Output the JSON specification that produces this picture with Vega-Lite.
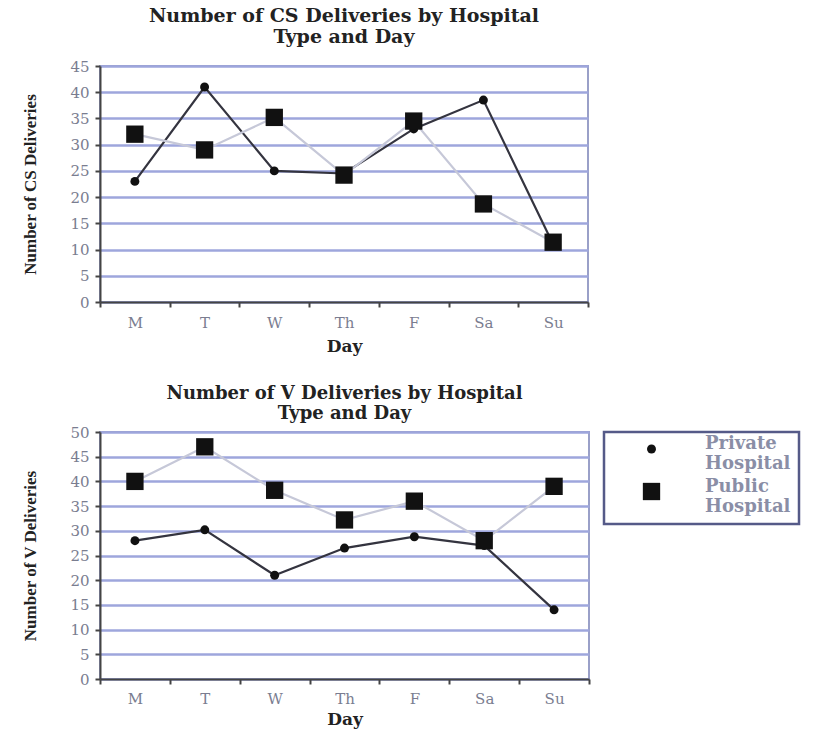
{
  "$schema": "https://vega.github.io/schema/vega-lite/v6.json",
  "background": "white",
  "padding": {"left": 20, "top": 6, "right": 5, "bottom": 3},
  "spacing": 29,
  "resolve": {"legend": {"shape": "independent", "size": "independent"}},
  "datasets": {
    "cs": [
      {"day": "M", "hospital": "Private Hospital", "value": 23},
      {"day": "T", "hospital": "Private Hospital", "value": 41},
      {"day": "W", "hospital": "Private Hospital", "value": 25},
      {"day": "Th", "hospital": "Private Hospital", "value": 24.5},
      {"day": "F", "hospital": "Private Hospital", "value": 33},
      {"day": "Sa", "hospital": "Private Hospital", "value": 38.5},
      {"day": "Su", "hospital": "Private Hospital", "value": 11},
      {"day": "M", "hospital": "Public Hospital", "value": 32},
      {"day": "T", "hospital": "Public Hospital", "value": 29},
      {"day": "W", "hospital": "Public Hospital", "value": 35.2},
      {"day": "Th", "hospital": "Public Hospital", "value": 24.2},
      {"day": "F", "hospital": "Public Hospital", "value": 34.5},
      {"day": "Sa", "hospital": "Public Hospital", "value": 18.7},
      {"day": "Su", "hospital": "Public Hospital", "value": 11.4}
    ],
    "v": [
      {"day": "M", "hospital": "Private Hospital", "value": 28},
      {"day": "T", "hospital": "Private Hospital", "value": 30.2},
      {"day": "W", "hospital": "Private Hospital", "value": 21},
      {"day": "Th", "hospital": "Private Hospital", "value": 26.5},
      {"day": "F", "hospital": "Private Hospital", "value": 28.8},
      {"day": "Sa", "hospital": "Private Hospital", "value": 27},
      {"day": "Su", "hospital": "Private Hospital", "value": 14},
      {"day": "M", "hospital": "Public Hospital", "value": 40},
      {"day": "T", "hospital": "Public Hospital", "value": 47},
      {"day": "W", "hospital": "Public Hospital", "value": 38.2},
      {"day": "Th", "hospital": "Public Hospital", "value": 32.2},
      {"day": "F", "hospital": "Public Hospital", "value": 36},
      {"day": "Sa", "hospital": "Public Hospital", "value": 28},
      {"day": "Su", "hospital": "Public Hospital", "value": 39}
    ]
  },
  "config": {
    "font": "DejaVu Serif",
    "view": {"stroke": "#9aa0c8", "strokeWidth": 2},
    "title": {"font": "DejaVu Serif", "fontSize": 19, "fontWeight": "bold", "color": "#222", "anchor": "middle", "offset": 12, "lineHeight": 21},
    "legend": {"strokeWidth": 2.5},
    "axis": {
      "labelFont": "DejaVu Serif", "labelFontSize": 15, "labelColor": "#7a7d90",
      "titleFont": "Liberation Serif", "titleFontSize": 17, "titleFontWeight": "bold", "titleColor": "#222",
      "domainColor": "#444", "domainWidth": 2, "tickColor": "#444", "tickWidth": 2, "tickSize": 5
    }
  },
  "vconcat": [
    {
      "width": 488,
      "height": 236,
      "title": {"text": ["Number of CS Deliveries by Hospital", "Type and Day"]},
      "data": {"name": "cs"},
      "encoding": {
        "x": {"field": "day", "type": "ordinal", "sort": ["M", "T", "W", "Th", "F", "Sa", "Su"],
              "scale": {"paddingInner": 0, "paddingOuter": 0},
              "axis": {"title": "Day", "titleFont": "DejaVu Serif", "labelAngle": 0, "tickBand": "extent", "labelPadding": 8, "titlePadding": 8}},
        "y": {"field": "value", "type": "quantitative",
              "scale": {"domain": [0, 45], "nice": false},
              "axis": {"title": "Number of CS Deliveries", "values": [0, 5, 10, 15, 20, 25, 30, 35, 40, 45],
                       "grid": true, "gridColor": "#9ea6dc", "gridWidth": 2.5, "titlePadding": 30, "labelPadding": 6}}
      },
      "layer": [
        {
          "mark": {"type": "line", "strokeWidth": 2.2},
          "encoding": {
            "color": {"field": "hospital", "type": "nominal",
                      "scale": {"domain": ["Private Hospital", "Public Hospital"], "range": ["#34343f", "#c6c8d8"]},
                      "legend": null}
          }
        },
        {
          "mark": {"type": "point", "filled": true, "color": "#111", "opacity": 1},
          "encoding": {
            "shape": {"field": "hospital", "type": "nominal",
                      "scale": {"domain": ["Private Hospital", "Public Hospital"], "range": ["circle", "square"]},
                      "legend": null},
            "size": {"field": "hospital", "type": "nominal",
                     "scale": {"domain": ["Private Hospital", "Public Hospital"], "range": [80, 300]},
                     "legend": null}
          }
        }
      ]
    },
    {
      "width": 489,
      "height": 247,
      "title": {"text": ["Number of V Deliveries by Hospital", "Type and Day"], "offset": 2, "fontSize": 18, "lineHeight": 20},
      "data": {"name": "v"},
      "encoding": {
        "x": {"field": "day", "type": "ordinal", "sort": ["M", "T", "W", "Th", "F", "Sa", "Su"],
              "scale": {"paddingInner": 0, "paddingOuter": 0},
              "axis": {"title": "Day", "titleFont": "DejaVu Serif", "labelAngle": 0, "tickBand": "extent", "labelPadding": 7, "titlePadding": 5}},
        "y": {"field": "value", "type": "quantitative",
              "scale": {"domain": [0, 50], "nice": false},
              "axis": {"title": "Number of V Deliveries", "values": [0, 5, 10, 15, 20, 25, 30, 35, 40, 45, 50],
                       "grid": true, "gridColor": "#9ea6dc", "gridWidth": 2.5, "titlePadding": 30, "labelPadding": 6}}
      },
      "layer": [
        {
          "mark": {"type": "line", "strokeWidth": 2.2},
          "encoding": {
            "color": {"field": "hospital", "type": "nominal",
                      "scale": {"domain": ["Private Hospital", "Public Hospital"], "range": ["#34343f", "#c6c8d8"]},
                      "legend": null}
          }
        },
        {
          "mark": {"type": "point", "filled": true, "color": "#111", "opacity": 1},
          "encoding": {
            "shape": {"field": "hospital", "type": "nominal",
                      "scale": {"domain": ["Private Hospital", "Public Hospital"], "range": ["circle", "square"]},
                      "legend": {"title": null, "orient": "right", "offset": 15, "padding": 8,
                                 "strokeColor": "#555a88", "fillColor": "white",
                                 "labelExpr": "split(datum.label, ' ')", "labelBaseline": "alphabetic",
                                 "labelFont": "DejaVu Serif", "labelFontSize": 18, "labelColor": "#8a8ea6",
                                 "labelFontWeight": "bold", "labelLimit": 200,
                                 "symbolFillColor": "#111", "symbolStrokeColor": "#111",
                                 "symbolOffset": 30, "labelOffset": 44, "rowPadding": 4, "labelLineHeight": 20}},
            "size": {"field": "hospital", "type": "nominal",
                     "scale": {"domain": ["Private Hospital", "Public Hospital"], "range": [80, 330]},
                     "legend": {"title": null, "orient": "right", "offset": 15, "padding": 8,
                                 "strokeColor": "#555a88", "fillColor": "white",
                                 "labelExpr": "split(datum.label, ' ')", "labelBaseline": "alphabetic",
                                 "labelFont": "DejaVu Serif", "labelFontSize": 18, "labelColor": "#8a8ea6",
                                 "labelFontWeight": "bold", "labelLimit": 200,
                                 "symbolFillColor": "#111", "symbolStrokeColor": "#111",
                                 "symbolOffset": 30, "labelOffset": 44, "rowPadding": 4, "labelLineHeight": 20}}
          }
        }
      ]
    }
  ]
}
